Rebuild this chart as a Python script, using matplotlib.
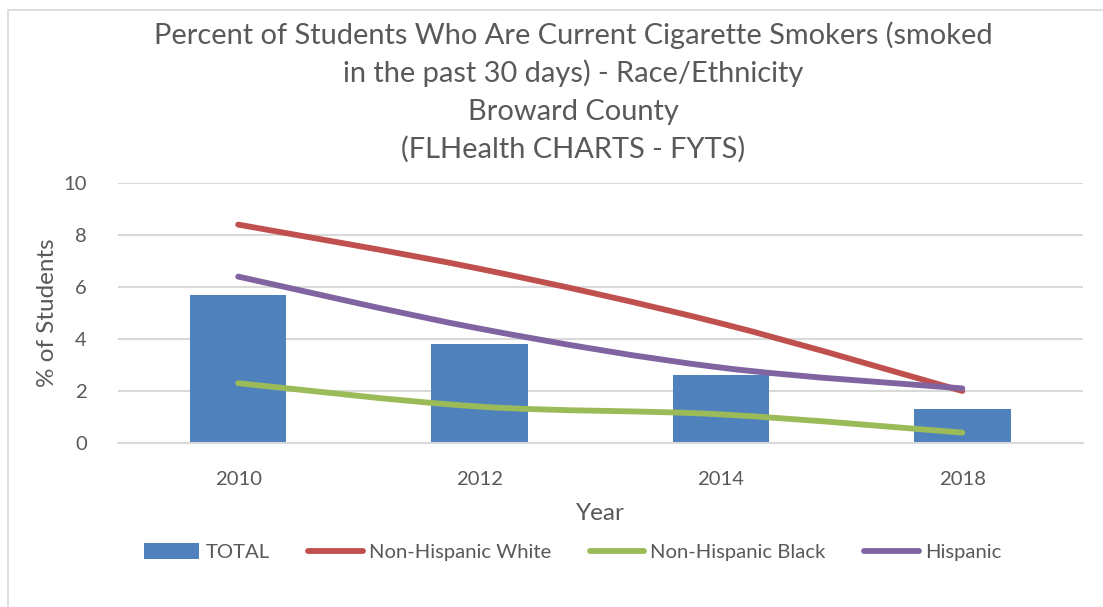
import numpy as np
import matplotlib
matplotlib.use('Agg')
import matplotlib.pyplot as plt
from matplotlib.path import Path
from matplotlib.patches import PathPatch, Rectangle, Patch
from matplotlib.lines import Line2D

years = ['2010', '2012', '2014', '2018']
total = [5.7, 3.8, 2.6, 1.3]
nh_white = [8.4, 6.7, 4.6, 2.0]
nh_black = [2.3, 1.4, 1.1, 0.4]
hispanic = [6.4, 4.4, 2.9, 2.1]

title_lines = ['Percent of Students Who Are Current Cigarette Smokers (smoked',
               'in the past 30 days) - Race/Ethnicity',
               'Broward County',
               '(FLHealth CHARTS - FYTS)']

blue = '#4F81BD'
red = '#C0504D'
green = '#9BBB59'
purple = '#8064A2'
txt = '#595959'
grid = '#D9D9D9'

plt.rcParams['font.family'] = ['Lato', 'DejaVu Sans']

W, H = 1103, 607


def smooth_path(xs, ys):
    # excel-like smoothed line: catmull-rom turned into cubic beziers
    pts = np.column_stack([xs, ys]).astype(float)
    ext = np.vstack([pts[0], pts, pts[-1]])
    verts = [pts[0]]
    codes = [Path.MOVETO]
    for i in range(len(pts) - 1):
        p0, p1, p2, p3 = ext[i], ext[i + 1], ext[i + 2], ext[i + 3]
        c1 = p1 + (p2 - p0) / 6
        c2 = p2 - (p3 - p1) / 6
        verts += [c1, c2, p2]
        codes += [Path.CURVE4] * 3
    return Path(verts, codes)


fig = plt.figure(figsize=(W / 100, H / 100), dpi=100)
ax = fig.add_axes([117.5 / W, 1 - 443 / H, (1083 - 117.5) / W, (443 - 183) / H])

x = np.arange(len(years))
ax.bar(x, total, width=0.4, color=blue, zorder=2)

for vals, col in [(nh_white, red), (nh_black, green), (hispanic, purple)]:
    ax.add_patch(PathPatch(smooth_path(x, vals), facecolor='none', edgecolor=col,
                           lw=4.2, capstyle='round', joinstyle='round', zorder=3))

ax.set_xlim(-0.5, len(years) - 0.5)
ax.set_ylim(0, 10)
ax.set_yticks([0, 2, 4, 6, 8, 10])
ax.set_xticks(x)
ax.set_xticklabels(years)
ax.yaxis.grid(True, color=grid, lw=1.5, zorder=0)
ax.set_axisbelow(True)
for s in ['top', 'right', 'left']:
    ax.spines[s].set_visible(False)
ax.spines['bottom'].set_color(grid)
ax.spines['bottom'].set_linewidth(1.5)
ax.tick_params(length=0, labelsize=14.6, colors=txt)
ax.tick_params(axis='y', pad=22)
ax.tick_params(axis='x', pad=20)

fig.text(48 / W, 1 - 313 / H, '% of Students', rotation=90, ha='center', va='center',
         fontsize=17.5, color=txt)
fig.text(600 / W, 1 - 514 / H, 'Year', ha='center', va='center', fontsize=17.5, color=txt)

for i, line in enumerate(title_lines):
    fig.text(573 / W, 1 - (44 + 38 * i) / H, line, ha='center', va='baseline',
             fontsize=20.9, color=txt)

handles = [Patch(facecolor=blue),
           Line2D([], [], color=red, lw=4.2, solid_capstyle='round'),
           Line2D([], [], color=green, lw=4.2, solid_capstyle='round'),
           Line2D([], [], color=purple, lw=4.2, solid_capstyle='round')]
labels = ['TOTAL', 'Non-Hispanic White', 'Non-Hispanic Black', 'Hispanic']
leg = fig.legend(handles, labels, loc='center', bbox_to_anchor=(573 / W, 1 - 552 / H),
                 ncol=4, frameon=False, fontsize=14.6, handlelength=2.7, handleheight=0.8,
                 handletextpad=0.3, columnspacing=1.9, labelcolor=txt)

fig.add_artist(Rectangle((7.5 / W, -0.1), 1.2, 0.1 + 1 - 9.5 / H, transform=fig.transFigure,
                         facecolor='none', edgecolor=grid, lw=1.2))

fig.savefig('out.png', dpi=100)
